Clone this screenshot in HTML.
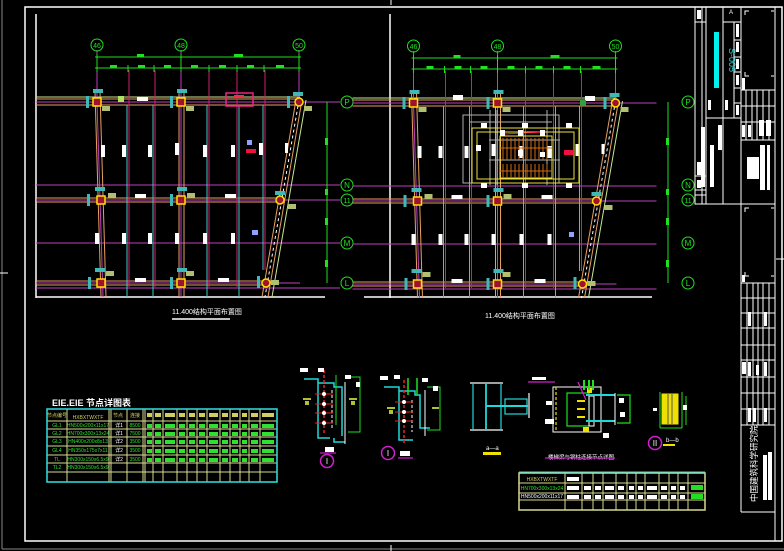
<!DOCTYPE html>
<html><head><meta charset="utf-8"><style>
html,body{margin:0;padding:0;background:#000;}
svg{display:block;}
text{font-family:"Liberation Sans","Noto Sans CJK SC",sans-serif;}
</style></head><body>
<svg width="784" height="551" viewBox="0 0 784 551" xmlns="http://www.w3.org/2000/svg">
<rect width="784" height="551" fill="#000"/>
<line x1="2" y1="0" x2="2" y2="549" stroke="#888" stroke-width="1"/>
<line x1="2" y1="549" x2="784" y2="549" stroke="#888" stroke-width="1"/>
<line x1="0" y1="273" x2="8" y2="273" stroke="#fff"/>
<line x1="391" y1="0" x2="391" y2="5" stroke="#fff"/>
<line x1="391" y1="545" x2="391" y2="551" stroke="#fff"/>
<line x1="776" y1="259" x2="784" y2="259" stroke="#fff"/>
<rect x="25" y="7" width="757" height="534" fill="none" stroke="#fff" stroke-width="1.5"/>

<defs>
<g id="plan">
  <g stroke="#c040c0" stroke-width="1">
    <line x1="36" y1="102" x2="340" y2="102"/>
    <line x1="36" y1="185" x2="340" y2="185"/>
    <line x1="36" y1="200" x2="340" y2="200"/>
    <line x1="36" y1="243" x2="340" y2="243"/>
    <line x1="36" y1="288" x2="340" y2="288"/>
    <line x1="36" y1="283" x2="300" y2="283"/>
  </g>
  <g stroke-width="1">
    <line x1="36" y1="97" x2="300" y2="97" stroke="#c8e890"/>
    <line x1="36" y1="99" x2="300" y2="99" stroke="#e8a060"/>
    <line x1="36" y1="105" x2="300" y2="105" stroke="#e8a060"/>
    <line x1="36" y1="198" x2="282" y2="198" stroke="#e8a060"/>
    <line x1="36" y1="202" x2="282" y2="202" stroke="#e8a060"/>
    <line x1="36" y1="281" x2="268" y2="281" stroke="#e8a060"/>
    <line x1="36" y1="285" x2="268" y2="285" stroke="#e8a060"/>
    <line x1="95" y1="92" x2="101" y2="297" stroke="#e8a060"/>
    <line x1="100" y1="92" x2="106" y2="297" stroke="#e8a060"/>
    <line x1="97" y1="102" x2="103" y2="297" stroke="#c040c0"/>
    <line x1="179" y1="92" x2="179" y2="297" stroke="#e8a060"/>
    <line x1="184" y1="92" x2="184" y2="297" stroke="#e8a060"/>
    <line x1="181" y1="50" x2="181" y2="297" stroke="#c040c0"/>
    <line x1="97" y1="50" x2="97" y2="102" stroke="#c040c0"/>
    <line x1="299" y1="50" x2="299" y2="102" stroke="#c040c0"/>
    <line x1="296" y1="100" x2="262" y2="297" stroke="#e8a060"/>
    <line x1="299" y1="100" x2="265" y2="297" stroke="#fff" stroke-dasharray="3,3"/>
    <line x1="302" y1="100" x2="268" y2="297" stroke="#e8a060"/>
    <line x1="306" y1="100" x2="272" y2="297" stroke="#c8e890"/>
  </g>
  <g stroke="#40c8c8" stroke-width="1">
    <line x1="127" y1="105" x2="127" y2="297"/>
    <line x1="153" y1="105" x2="153" y2="297"/>
    <line x1="207" y1="105" x2="207" y2="297"/>
    <line x1="239" y1="105" x2="239" y2="297"/>
    <line x1="263" y1="105" x2="263" y2="270"/>
  </g>
  <g stroke="#d0206a" stroke-width="1">
    <line x1="129" y1="70" x2="129" y2="287"/>
    <line x1="155" y1="70" x2="155" y2="287"/>
    <line x1="209" y1="70" x2="209" y2="287"/>
    <line x1="237" y1="70" x2="237" y2="287"/>
    <line x1="265" y1="70" x2="265" y2="270"/>
  </g>
  <g fill="#fff">
    <rect x="101" y="145" width="4" height="12"/><rect x="122" y="145" width="4" height="12"/>
    <rect x="148" y="145" width="4" height="12"/><rect x="175" y="143" width="4" height="12"/>
    <rect x="203" y="145" width="4" height="12"/><rect x="231" y="145" width="4" height="12"/>
    <rect x="259" y="143" width="4" height="12"/><rect x="285" y="143" width="3" height="10"/>
    <rect x="95" y="233" width="4" height="11"/><rect x="122" y="233" width="4" height="11"/>
    <rect x="148" y="233" width="4" height="11"/><rect x="175" y="233" width="4" height="11"/>
    <rect x="203" y="233" width="4" height="11"/><rect x="231" y="233" width="4" height="11"/>
    <rect x="135" y="194" width="11" height="4"/><rect x="225" y="194" width="11" height="4"/>
    <rect x="135" y="278" width="11" height="4"/><rect x="218" y="278" width="11" height="4"/>
  </g>
  <g fill="#40b8b8">
    <rect x="86" y="96" width="3" height="12"/><rect x="93" y="89" width="10" height="4"/>
    <rect x="170" y="96" width="3" height="12"/><rect x="177" y="89" width="10" height="4"/>
    <rect x="87" y="194" width="3" height="12"/><rect x="95" y="187" width="10" height="4"/>
    <rect x="170" y="194" width="3" height="12"/><rect x="177" y="187" width="10" height="4"/>
    <rect x="88" y="277" width="3" height="12"/><rect x="95" y="268" width="10" height="4"/>
    <rect x="170" y="277" width="3" height="12"/><rect x="177" y="268" width="10" height="4"/>
    <rect x="293" y="92" width="10" height="4"/><rect x="287" y="96" width="3" height="12"/>
    <rect x="275" y="191" width="10" height="4"/><rect x="257" y="276" width="3" height="12"/>
  </g>
  <g fill="#b0c070">
    <rect x="102" y="106" width="8" height="5"/><rect x="186" y="106" width="8" height="5"/>
    <rect x="108" y="193" width="8" height="5"/><rect x="187" y="193" width="8" height="5"/>
    <rect x="106" y="271" width="8" height="5"/><rect x="186" y="271" width="8" height="5"/>
    <rect x="304" y="106" width="8" height="5"/><rect x="288" y="204" width="8" height="5"/>
    <rect x="271" y="280" width="8" height="5"/>
  </g>
  <g stroke="#ffe000" stroke-width="1.5" fill="#a01030">
    <rect x="93" y="98" width="8" height="8"/><rect x="177" y="98" width="8" height="8"/>
    <rect x="97" y="196" width="8" height="8"/><rect x="177" y="196" width="8" height="8"/>
    <rect x="97" y="279" width="8" height="8"/><rect x="177" y="279" width="8" height="8"/>
    <circle cx="299" cy="102" r="4"/><circle cx="280" cy="200" r="4"/><circle cx="266" cy="283" r="4"/>
  </g>
  <g stroke="#20e020" stroke-width="1">
    <line x1="95" y1="57" x2="301" y2="57"/>
    <line x1="95" y1="68" x2="301" y2="68"/>
    <line x1="97" y1="54" x2="97" y2="72"/><line x1="181" y1="54" x2="181" y2="72"/><line x1="299" y1="54" x2="299" y2="72"/>
    <line x1="128" y1="65" x2="128" y2="72"/><line x1="154" y1="65" x2="154" y2="72"/><line x1="209" y1="65" x2="209" y2="72"/>
    <line x1="237" y1="65" x2="237" y2="72"/><line x1="264" y1="65" x2="264" y2="72"/>
    <circle cx="97" cy="45" r="6" fill="none"/><circle cx="181" cy="45" r="6" fill="none"/><circle cx="299" cy="45" r="6" fill="none"/>
  </g>
  <g fill="#20e020" font-size="7" text-anchor="middle">
    <text x="97" y="48">46</text><text x="181" y="48">48</text><text x="299" y="48">50</text>
  </g>
  <g fill="#20e020">
    <rect x="137" y="54" width="7" height="3"/><rect x="234" y="54" width="9" height="3"/>
    <rect x="110" y="65" width="7" height="3"/><rect x="138" y="65" width="7" height="3"/><rect x="164" y="65" width="7" height="3"/>
    <rect x="191" y="65" width="7" height="3"/><rect x="219" y="65" width="7" height="3"/><rect x="247" y="65" width="7" height="3"/><rect x="276" y="65" width="8" height="3"/>
  </g>
</g>
<g id="rowbub">
  <line x1="0" y1="102" x2="0" y2="283" stroke="#20e020"/>
  <g stroke="#20e020" fill="none">
    <circle cx="20" cy="102" r="6"/><circle cx="20" cy="185" r="6"/><circle cx="20" cy="200" r="6"/>
    <circle cx="20" cy="243" r="6"/><circle cx="20" cy="283" r="6"/>
  </g>
  <g fill="#20e020" font-size="8" text-anchor="middle">
    <text x="20" y="105">P</text><text x="20" y="188">N</text><text x="20" y="203" font-size="7">11</text>
    <text x="20" y="246">M</text><text x="20" y="286">L</text>
    <rect x="-2" y="138" width="3" height="7"/><rect x="-2" y="189" width="3" height="6"/><rect x="-2" y="218" width="3" height="7"/><rect x="-2" y="260" width="3" height="7"/>
  </g>
</g>
</defs>

<line x1="36" y1="14" x2="36" y2="298" stroke="#fff" stroke-width="1.5"/>
<line x1="36" y1="297" x2="325" y2="297" stroke="#fff" stroke-width="1.5"/>
<use href="#plan"/>
<use href="#rowbub" x="327"/>
<rect x="226" y="93" width="27" height="13" fill="none" stroke="#f0208a" stroke-width="1.5"/>
<rect x="234" y="95" width="10" height="3" fill="#f03040"/>
<rect x="247" y="140" width="5" height="5" fill="#90a0ff"/>
<rect x="246" y="149" width="10" height="4" fill="#f01040"/>
<rect x="252" y="230" width="6" height="5" fill="#90a0ff"/>
<rect x="118" y="96" width="6" height="6" fill="#b0e060"/>
<rect x="137" y="97" width="11" height="4" fill="#fff"/>

<line x1="390" y1="14" x2="390" y2="298" stroke="#fff" stroke-width="1.5"/>
<line x1="364" y1="297" x2="652" y2="297" stroke="#fff" stroke-width="1.5"/>
<g transform="translate(316.5,1)"><use href="#plan"/></g>
<use href="#rowbub" x="668"/>
<g fill="none" stroke="#b0b0b0" stroke-width="1">
  <rect x="463" y="115" width="96" height="68"/>
  <line x1="490" y1="110" x2="490" y2="185"/><line x1="497" y1="110" x2="497" y2="185"/>
  <line x1="547" y1="110" x2="547" y2="185"/><line x1="470" y1="122" x2="552" y2="122"/>
  <line x1="489" y1="140" x2="560" y2="140"/><line x1="489" y1="160" x2="560" y2="160"/>
</g>
<g fill="none" stroke="#e8e040" stroke-width="1">
  <rect x="472" y="128" width="107" height="55"/>
  <rect x="477" y="132" width="97" height="47"/>
  <rect x="500" y="136" width="52" height="42"/>
</g>
<g stroke="#d06a10" stroke-width="1">
  <line x1="503" y1="138" x2="503" y2="160"/><line x1="507" y1="138" x2="507" y2="160"/><line x1="511" y1="138" x2="511" y2="160"/>
  <line x1="515" y1="138" x2="515" y2="160"/><line x1="519" y1="138" x2="519" y2="160"/><line x1="523" y1="138" x2="523" y2="160"/>
  <line x1="527" y1="138" x2="527" y2="160"/><line x1="531" y1="138" x2="531" y2="160"/><line x1="535" y1="138" x2="535" y2="160"/>
  <line x1="539" y1="138" x2="539" y2="160"/><line x1="543" y1="138" x2="543" y2="160"/><line x1="547" y1="138" x2="547" y2="160"/>
  <line x1="503" y1="164" x2="503" y2="178"/><line x1="507" y1="164" x2="507" y2="178"/><line x1="511" y1="164" x2="511" y2="178"/>
  <line x1="515" y1="164" x2="515" y2="178"/><line x1="519" y1="164" x2="519" y2="178"/><line x1="523" y1="164" x2="523" y2="178"/>
  <line x1="527" y1="164" x2="527" y2="178"/><line x1="531" y1="164" x2="531" y2="178"/><line x1="535" y1="164" x2="535" y2="178"/>
  <line x1="539" y1="164" x2="539" y2="178"/><line x1="543" y1="164" x2="543" y2="178"/><line x1="547" y1="164" x2="547" y2="178"/>
  <line x1="500" y1="148" x2="552" y2="148"/><line x1="500" y1="171" x2="552" y2="171"/>
</g>
<line x1="504" y1="134" x2="545" y2="132" stroke="#f02040"/>
<g fill="#fff">
  <rect x="481" y="123" width="6" height="5"/><rect x="522" y="123" width="6" height="5"/><rect x="566" y="123" width="6" height="5"/>
  <rect x="500" y="130" width="5" height="6"/><rect x="518" y="130" width="5" height="6"/><rect x="540" y="130" width="5" height="6"/>
  <rect x="518" y="150" width="5" height="6"/><rect x="540" y="152" width="5" height="5"/><rect x="476" y="145" width="5" height="6"/>
  <rect x="481" y="183" width="6" height="5"/><rect x="522" y="183" width="6" height="5"/><rect x="566" y="183" width="6" height="5"/>
  <rect x="453" y="95" width="10" height="5"/><rect x="585" y="96" width="10" height="5"/>
</g>
<rect x="564" y="150" width="9" height="5" fill="#f01040"/>
<rect x="569" y="232" width="5" height="5" fill="#90a0ff"/>
<rect x="580" y="100" width="6" height="6" fill="#30a040"/>

<text x="172" y="314" fill="#fff" font-size="7">11.400结构平面布置图</text>
<line x1="172" y1="319" x2="230" y2="319" stroke="#fff" stroke-width="1.5"/>
<text x="485" y="318" fill="#fff" font-size="7">11.400结构平面布置图</text>

<text x="52" y="406" fill="#fff" font-size="9" font-weight="bold">ElE.ElE 节点详图表</text>
<g stroke="#d8d890" stroke-width="1" fill="none">
  <line x1="67" y1="409" x2="67" y2="482"/><line x1="109" y1="409" x2="109" y2="482"/><line x1="111" y1="409" x2="111" y2="482"/>
  <line x1="127" y1="409" x2="127" y2="482"/><line x1="143" y1="409" x2="143" y2="482"/><line x1="145" y1="409" x2="145" y2="482"/>
  <line x1="153" y1="409" x2="153" y2="482"/><line x1="163" y1="409" x2="163" y2="482"/><line x1="177" y1="409" x2="177" y2="482"/>
  <line x1="187" y1="409" x2="187" y2="482"/><line x1="197" y1="409" x2="197" y2="482"/><line x1="207" y1="409" x2="207" y2="482"/>
  <line x1="220" y1="409" x2="220" y2="482"/><line x1="230" y1="409" x2="230" y2="482"/><line x1="240" y1="409" x2="240" y2="482"/>
  <line x1="249" y1="409" x2="249" y2="482"/><line x1="260" y1="409" x2="260" y2="482"/>
  <line x1="47" y1="421" x2="277" y2="421"/><line x1="47" y1="429" x2="277" y2="429"/><line x1="47" y1="437" x2="277" y2="437"/>
  <line x1="47" y1="446" x2="277" y2="446"/><line x1="47" y1="455" x2="277" y2="455"/><line x1="47" y1="463" x2="277" y2="463"/>
  <line x1="47" y1="472" x2="277" y2="472"/>
</g>
<rect x="47" y="409" width="230" height="73" fill="none" stroke="#30e0e0" stroke-width="1.5"/>
<g font-size="5" fill="#30e030" text-anchor="middle">
  <text x="57" y="417" fill="#d0d060">节点编号</text><text x="88" y="419" fill="#d0d060">HXBXTWXTF</text><text x="118" y="417" fill="#d0d060">节点</text><text x="135" y="417" fill="#d0d060">连接</text>
  <text x="57" y="427">GL1</text><text x="88" y="427">HN500x200x11x17</text><text x="119" y="427" fill="#fff">详1</text><text x="135" y="427">8500</text>
  <text x="57" y="435">GL2</text><text x="88" y="435">HN700x300x13x24</text><text x="119" y="435" fill="#fff">详1</text><text x="135" y="435">7500</text>
  <text x="57" y="443">GL3</text><text x="88" y="443">HN400x200x8x13</text><text x="119" y="443" fill="#fff">详2</text><text x="135" y="443">3500</text>
  <text x="57" y="452">GL4</text><text x="88" y="452">HN350x175x7x11</text><text x="119" y="452" fill="#fff">详2</text><text x="135" y="452">3500</text>
  <text x="57" y="461">TL</text><text x="88" y="461">HN300x150x6.5x9</text><text x="119" y="461" fill="#fff">详2</text><text x="135" y="461">3500</text>
  <text x="57" y="469">TL2</text><text x="88" y="469">HN300x150x6.5x9</text>
</g>
<g fill="#30e030">
  <rect x="147" y="424" width="5" height="4"/><rect x="155" y="424" width="6" height="4"/><rect x="165" y="424" width="10" height="4"/><rect x="179" y="424" width="6" height="4"/><rect x="189" y="424" width="6" height="4"/><rect x="199" y="424" width="6" height="4"/><rect x="209" y="424" width="9" height="4"/><rect x="222" y="424" width="6" height="4"/><rect x="232" y="424" width="6" height="4"/><rect x="242" y="424" width="5" height="4"/><rect x="251" y="424" width="7" height="4"/><rect x="262" y="424" width="12" height="4"/>
  <rect x="147" y="432" width="5" height="4"/><rect x="155" y="432" width="6" height="4"/><rect x="165" y="432" width="10" height="4"/><rect x="179" y="432" width="6" height="4"/><rect x="189" y="432" width="6" height="4"/><rect x="199" y="432" width="6" height="4"/><rect x="209" y="432" width="9" height="4"/><rect x="222" y="432" width="6" height="4"/><rect x="232" y="432" width="6" height="4"/><rect x="242" y="432" width="5" height="4"/><rect x="251" y="432" width="7" height="4"/><rect x="262" y="432" width="12" height="4"/>
  <rect x="147" y="440" width="5" height="4"/><rect x="155" y="440" width="6" height="4"/><rect x="165" y="440" width="10" height="4"/><rect x="179" y="440" width="6" height="4"/><rect x="189" y="440" width="6" height="4"/><rect x="199" y="440" width="6" height="4"/><rect x="209" y="440" width="9" height="4"/><rect x="222" y="440" width="6" height="4"/><rect x="232" y="440" width="6" height="4"/><rect x="242" y="440" width="5" height="4"/><rect x="251" y="440" width="7" height="4"/><rect x="262" y="440" width="12" height="4"/>
  <rect x="147" y="449" width="5" height="4"/><rect x="155" y="449" width="6" height="4"/><rect x="165" y="449" width="10" height="4"/><rect x="179" y="449" width="6" height="4"/><rect x="189" y="449" width="6" height="4"/><rect x="199" y="449" width="6" height="4"/><rect x="209" y="449" width="9" height="4"/><rect x="222" y="449" width="6" height="4"/><rect x="232" y="449" width="6" height="4"/><rect x="242" y="449" width="5" height="4"/><rect x="251" y="449" width="7" height="4"/><rect x="262" y="449" width="12" height="4"/>
  <rect x="147" y="458" width="5" height="4"/><rect x="155" y="458" width="6" height="4"/><rect x="165" y="458" width="10" height="4"/><rect x="179" y="458" width="6" height="4"/><rect x="189" y="458" width="6" height="4"/><rect x="199" y="458" width="6" height="4"/><rect x="209" y="458" width="9" height="4"/><rect x="222" y="458" width="6" height="4"/><rect x="232" y="458" width="6" height="4"/><rect x="242" y="458" width="5" height="4"/><rect x="251" y="458" width="7" height="4"/><rect x="262" y="458" width="12" height="4"/>
</g>
<g fill="#d0d060"><rect x="147" y="413" width="5" height="4"/><rect x="155" y="413" width="6" height="4"/><rect x="165" y="413" width="10" height="4"/><rect x="179" y="413" width="6" height="4"/><rect x="189" y="413" width="6" height="4"/><rect x="199" y="413" width="6" height="4"/><rect x="209" y="413" width="9" height="4"/><rect x="222" y="413" width="6" height="4"/><rect x="232" y="413" width="6" height="4"/><rect x="242" y="413" width="5" height="4"/><rect x="251" y="413" width="7" height="4"/><rect x="262" y="413" width="12" height="4"/></g>

<g stroke-width="1.5" fill="none">
  <path d="M304 379 H318 V438 H330" stroke="#20d8d8"/>
  <path d="M318 383 H334 V387 H342 V436" stroke="#20d8d8"/>
  <path d="M334 438 V442 H345" stroke="#20d8d8"/>
  <line x1="345" y1="382" x2="345" y2="444" stroke="#fff" stroke-width="1"/>
  <line x1="324" y1="370" x2="324" y2="435" stroke="#f02020" stroke-dasharray="3,2"/>
  <line x1="332" y1="390" x2="332" y2="430" stroke="#fff" stroke-width="1" stroke-dasharray="3,2"/>
  <line x1="336" y1="375" x2="336" y2="425" stroke="#20e020" stroke-width="1"/>
  <path d="M348 377 H360 V432 H348" stroke="#20e020" stroke-width="1"/>
</g>
<g stroke="#f02020" stroke-width="1">
  <line x1="315" y1="394" x2="333" y2="394"/><line x1="315" y1="404" x2="333" y2="404"/><line x1="315" y1="413" x2="333" y2="413"/><line x1="315" y1="423" x2="333" y2="423"/>
</g>
<g fill="#fff"><circle cx="324" cy="394" r="2"/><circle cx="324" cy="404" r="2"/><circle cx="324" cy="413" r="2"/><circle cx="324" cy="423" r="2"/>
<rect x="300" y="368" width="8" height="4"/><rect x="318" y="368" width="6" height="4"/><rect x="345" y="375" width="6" height="4"/><rect x="356" y="382" width="4" height="5"/><rect x="325" y="447" width="9" height="5"/></g>
<g fill="#b0c030"><rect x="303" y="398" width="8" height="2"/><rect x="305" y="401" width="4" height="4"/><rect x="349" y="398" width="8" height="2"/><rect x="351" y="401" width="4" height="4"/></g>
<line x1="320" y1="453" x2="336" y2="453" stroke="#d020d0" stroke-width="1.2"/>
<circle cx="327" cy="461" r="6.5" fill="none" stroke="#d020d0" stroke-width="1.5"/>
<text x="327" y="464" fill="#fff" font-size="8" text-anchor="middle">I</text>
<g stroke-width="1.5" fill="none">
  <path d="M384 387 H399 V440 H413" stroke="#20d8d8"/>
  <path d="M399 391 H415 V395 H420 V428 H430" stroke="#20d8d8"/>
  <line x1="425" y1="390" x2="425" y2="436" stroke="#fff" stroke-width="1"/>
  <line x1="404" y1="380" x2="404" y2="445" stroke="#f02020" stroke-dasharray="3,2"/>
  <line x1="412" y1="400" x2="412" y2="432" stroke="#fff" stroke-width="1" stroke-dasharray="3,2"/>
  <line x1="408" y1="378" x2="408" y2="395" stroke="#20e020"/><line x1="417" y1="378" x2="417" y2="395" stroke="#20e020"/>
  <path d="M427 387 H440 V430 H427" stroke="#20e020" stroke-width="1"/>
</g>
<g stroke="#f02020" stroke-width="1"><line x1="395" y1="402" x2="413" y2="402"/><line x1="395" y1="412" x2="413" y2="412"/><line x1="395" y1="421" x2="413" y2="421"/></g>
<g fill="#fff"><circle cx="404" cy="402" r="2"/><circle cx="404" cy="412" r="2"/><circle cx="404" cy="421" r="2"/><rect x="380" y="376" width="8" height="4"/><rect x="394" y="375" width="6" height="4"/><rect x="422" y="378" width="6" height="4"/><rect x="433" y="386" width="5" height="5"/><rect x="400" y="451" width="10" height="5"/></g>
<g fill="#b0c030"><rect x="387" y="407" width="8" height="2"/><rect x="389" y="410" width="4" height="4"/><rect x="432" y="407" width="7" height="2"/></g>
<line x1="398" y1="458" x2="413" y2="458" stroke="#d020d0" stroke-width="1.2"/>
<circle cx="388" cy="453" r="6.5" fill="none" stroke="#d020d0" stroke-width="1.5"/>
<text x="388" y="456" fill="#fff" font-size="8" text-anchor="middle">I</text>

<g stroke-width="1.2" fill="none">
  <line x1="470" y1="383" x2="503" y2="383" stroke="#fff"/><line x1="470" y1="430" x2="503" y2="430" stroke="#fff"/>
  <line x1="473" y1="383" x2="473" y2="430" stroke="#20d8d8"/><line x1="486" y1="383" x2="486" y2="430" stroke="#20d8d8" stroke-width="1.8"/><line x1="501" y1="383" x2="501" y2="430" stroke="#20d8d8"/>
  <line x1="486" y1="406" x2="528" y2="406" stroke="#20d8d8" stroke-width="2"/>
  <rect x="505" y="399" width="22" height="15" stroke="#20d8d8"/>
  <line x1="529" y1="393" x2="529" y2="418" stroke="#fff"/>
</g>
<rect x="483" y="452" width="18" height="3" fill="#f0e000"/>
<text x="486" y="450" fill="#fff" font-size="6">a—a</text>
<line x1="528" y1="382" x2="555" y2="382" stroke="#d020d0" stroke-width="1.2"/>
<rect x="532" y="377" width="14" height="3" fill="#fff"/>
<g fill="none" stroke-width="1.2">
  <rect x="553" y="387" width="48" height="45" stroke="#fff" stroke-width="1"/>
  <line x1="556" y1="387" x2="556" y2="432" stroke="#f0e000" stroke-dasharray="3,2"/>
  <rect x="567" y="393" width="22" height="33" stroke="#20e020"/>
  <rect x="589" y="396" width="5" height="30" stroke="#fff" stroke-width="1"/>
  <line x1="586" y1="395" x2="615" y2="395" stroke="#20d8d8" stroke-width="2"/>
  <line x1="586" y1="421" x2="615" y2="421" stroke="#20d8d8" stroke-width="2"/>
  <line x1="615" y1="393" x2="615" y2="425" stroke="#fff" stroke-width="1"/>
  <path d="M617 395 H630 V423 H617" stroke="#20e020"/>
  <line x1="578" y1="382" x2="586" y2="400" stroke="#d020d0"/>
</g>
<g fill="#f0e000"><rect x="577" y="400" width="8" height="2"/><rect x="577" y="408" width="8" height="2"/><rect x="577" y="416" width="8" height="2"/><rect x="583" y="427" width="6" height="5"/><rect x="587" y="388" width="5" height="5"/></g>
<g fill="#20e020"><rect x="583" y="380" width="2" height="10"/><rect x="588" y="380" width="2" height="10"/><rect x="592" y="380" width="2" height="10"/></g>
<g fill="#fff"><rect x="546" y="401" width="6" height="4"/><rect x="545" y="419" width="9" height="5"/><rect x="603" y="433" width="6" height="5"/><rect x="619" y="398" width="5" height="5"/><rect x="620" y="412" width="5" height="5"/></g>
<text x="548" y="459" fill="#fff" font-size="5.5">楼梯梁与钢柱连接节点详图</text>
<line x1="545" y1="458" x2="615" y2="458" stroke="#d020d0" stroke-width="1.2"/>
<g fill="none" stroke-width="1">
  <rect x="662" y="394" width="16" height="30" fill="#f0e000" stroke="#f0e000"/>
  <line x1="668" y1="394" x2="668" y2="424" stroke="#555"/><line x1="672" y1="394" x2="672" y2="424" stroke="#555"/>
  <path d="M660 392 V428 M682 392 V428 M686 396 V425 M660 428 H682" stroke="#20e020"/>
</g>
<g fill="#fff"><rect x="653" y="408" width="4" height="3"/><rect x="683" y="405" width="4" height="5"/></g>
<circle cx="655" cy="443" r="6.5" fill="none" stroke="#d020d0" stroke-width="1.5"/>
<text x="655" y="446" fill="#fff" font-size="8" text-anchor="middle">II</text>
<text x="666" y="442" fill="#fff" font-size="6">b—b</text>
<rect x="663" y="444" width="12" height="2" fill="#f0e000"/>

<g stroke="#d8d890" stroke-width="1" fill="none">
  <line x1="565" y1="473" x2="565" y2="510"/><line x1="582" y1="473" x2="582" y2="510"/><line x1="593" y1="473" x2="593" y2="510"/>
  <line x1="603" y1="473" x2="603" y2="510"/><line x1="616" y1="473" x2="616" y2="510"/><line x1="627" y1="473" x2="627" y2="510"/>
  <line x1="636" y1="473" x2="636" y2="510"/><line x1="645" y1="473" x2="645" y2="510"/><line x1="659" y1="473" x2="659" y2="510"/>
  <line x1="669" y1="473" x2="669" y2="510"/><line x1="678" y1="473" x2="678" y2="510"/><line x1="688" y1="473" x2="688" y2="510"/>
  <line x1="519" y1="483" x2="705" y2="483"/><line x1="519" y1="493" x2="705" y2="493"/><line x1="519" y1="500" x2="705" y2="500"/>
</g>
<rect x="519" y="473" width="186" height="37" fill="none" stroke="#d8d890" stroke-width="1.5"/>
<line x1="519" y1="472" x2="705" y2="472" stroke="#30e0e0"/>
<g font-size="5" text-anchor="middle">
  <text x="542" y="481" fill="#d0d060">HXBXTWXTF</text>
  <text x="542" y="490" fill="#30e030">HN700x300x13x24</text>
  <text x="542" y="498" fill="#fff">HN500x200x11x17</text>
</g>
<g fill="#fff"><rect x="567" y="477" width="12" height="4"/><rect x="567" y="486" width="12" height="4"/><rect x="567" y="495" width="12" height="4"/>
<rect x="584" y="495" width="7" height="4"/><rect x="595" y="495" width="6" height="4"/><rect x="605" y="495" width="9" height="4"/><rect x="618" y="495" width="6" height="4"/><rect x="629" y="495" width="5" height="4"/><rect x="638" y="495" width="5" height="4"/><rect x="647" y="495" width="10" height="4"/><rect x="661" y="495" width="6" height="4"/><rect x="671" y="495" width="5" height="4"/><rect x="680" y="495" width="5" height="4"/></g>
<g fill="#fff"><rect x="584" y="486" width="7" height="4"/><rect x="595" y="486" width="6" height="4"/><rect x="605" y="486" width="9" height="4"/><rect x="618" y="486" width="6" height="4"/><rect x="629" y="486" width="5" height="4"/><rect x="638" y="486" width="5" height="4"/><rect x="647" y="486" width="10" height="4"/><rect x="661" y="486" width="6" height="4"/><rect x="671" y="486" width="5" height="4"/><rect x="680" y="486" width="5" height="4"/></g>
<g fill="#20e020"><rect x="691" y="485" width="12" height="5"/><rect x="691" y="494" width="12" height="5"/></g>

<g stroke="#fff" stroke-width="1" fill="none">
  <line x1="775" y1="7" x2="775" y2="541"/>
  <line x1="741" y1="7" x2="741" y2="512"/><line x1="741" y1="512" x2="775" y2="512"/>
  <rect x="695" y="7" width="46" height="197"/>
  <line x1="702" y1="7" x2="702" y2="204"/><line x1="706" y1="7" x2="706" y2="204"/>
  <line x1="723" y1="7" x2="723" y2="204"/><line x1="734" y1="22" x2="734" y2="118"/>
  <line x1="723" y1="22" x2="741" y2="22"/><line x1="706" y1="118" x2="741" y2="118"/>
  <line x1="695" y1="22" x2="706" y2="22"/><line x1="695" y1="176" x2="706" y2="176"/><line x1="695" y1="190" x2="706" y2="190"/><line x1="695" y1="195" x2="706" y2="195"/>
  <line x1="734" y1="40" x2="741" y2="40"/><line x1="734" y1="57" x2="741" y2="57"/><line x1="734" y1="72" x2="741" y2="72"/><line x1="734" y1="88" x2="741" y2="88"/><line x1="734" y1="103" x2="741" y2="103"/>
  <line x1="741" y1="90" x2="775" y2="90"/><line x1="741" y1="140" x2="775" y2="140"/><line x1="741" y1="204" x2="775" y2="204"/>
  <line x1="741" y1="283" x2="775" y2="283"/><line x1="741" y1="425" x2="775" y2="425"/>
  <line x1="741" y1="106" x2="775" y2="106"/><line x1="741" y1="122" x2="775" y2="122"/>
  <line x1="746" y1="90" x2="746" y2="140"/><line x1="752" y1="90" x2="752" y2="140"/><line x1="757" y1="90" x2="757" y2="140"/><line x1="763" y1="90" x2="763" y2="140"/><line x1="769" y1="90" x2="769" y2="140"/>
  <line x1="741" y1="298" x2="775" y2="298"/><line x1="741" y1="313" x2="775" y2="313"/><line x1="741" y1="328" x2="775" y2="328"/><line x1="741" y1="345" x2="775" y2="345"/><line x1="741" y1="360" x2="775" y2="360"/><line x1="741" y1="377" x2="775" y2="377"/><line x1="741" y1="393" x2="775" y2="393"/><line x1="741" y1="409" x2="775" y2="409"/>
  <line x1="747" y1="283" x2="747" y2="425"/><line x1="753" y1="283" x2="753" y2="425"/><line x1="758" y1="283" x2="758" y2="425"/><line x1="763" y1="283" x2="763" y2="425"/><line x1="769" y1="283" x2="769" y2="425"/>
  <path d="M745 15 V11 H749 M771 11 H774 M745 72 V76 H749 M771 76 H774" />
  <path d="M745 212 V208 H749 M771 208 H774 M745 272 V276 H749 M771 276 H774" />
</g>
<rect x="714" y="32" width="5" height="56" fill="#00f0f0"/>
<text x="729" y="60" fill="#30d8d8" font-size="9" transform="rotate(90 729 60)" text-anchor="middle">S-005</text>
<text x="729" y="14" fill="#fff" font-size="6">A</text>
<g fill="#fff">
  <rect x="697" y="10" width="4" height="9"/><rect x="697" y="162" width="4" height="13"/><rect x="697" y="180" width="4" height="8"/>
  <rect x="701" y="127" width="4" height="60"/><rect x="710" y="145" width="4" height="42"/><rect x="718" y="125" width="4" height="25"/>
  <rect x="708" y="100" width="3" height="10"/><rect x="725" y="100" width="3" height="10"/>
  <rect x="736" y="24" width="3" height="13"/><rect x="736" y="42" width="3" height="10"/><rect x="736" y="59" width="3" height="10"/><rect x="736" y="75" width="3" height="10"/><rect x="736" y="105" width="3" height="10"/>
  <rect x="747" y="157" width="12" height="22"/><rect x="760" y="145" width="5" height="45"/><rect x="767" y="145" width="3" height="45"/>
  <rect x="742" y="78" width="3" height="12"/><rect x="742" y="125" width="3" height="12"/><rect x="748" y="125" width="3" height="12"/><rect x="759" y="120" width="5" height="16"/><rect x="766" y="120" width="5" height="16"/>
  <rect x="742" y="275" width="3" height="7"/>
  <rect x="742" y="362" width="4" height="12"/><rect x="748" y="312" width="3" height="14"/><rect x="748" y="362" width="3" height="14"/><rect x="764" y="312" width="3" height="14"/><rect x="764" y="362" width="3" height="14"/><rect x="756" y="365" width="3" height="10"/>
  <rect x="748" y="408" width="3" height="14"/><rect x="753" y="408" width="3" height="14"/><rect x="764" y="408" width="3" height="14"/>
  <rect x="763" y="455" width="4" height="45"/><rect x="768" y="452" width="4" height="48"/>
</g>
<text x="500" y="756" fill="#fff" font-size="8" transform="rotate(-90 500 756) translate(0,0)" style="display:none">x</text>
<text x="0" y="0" fill="#fff" font-size="8.5" transform="translate(757,502) rotate(-90)">中国建筑科学研究院</text>
</svg>
</body></html>
